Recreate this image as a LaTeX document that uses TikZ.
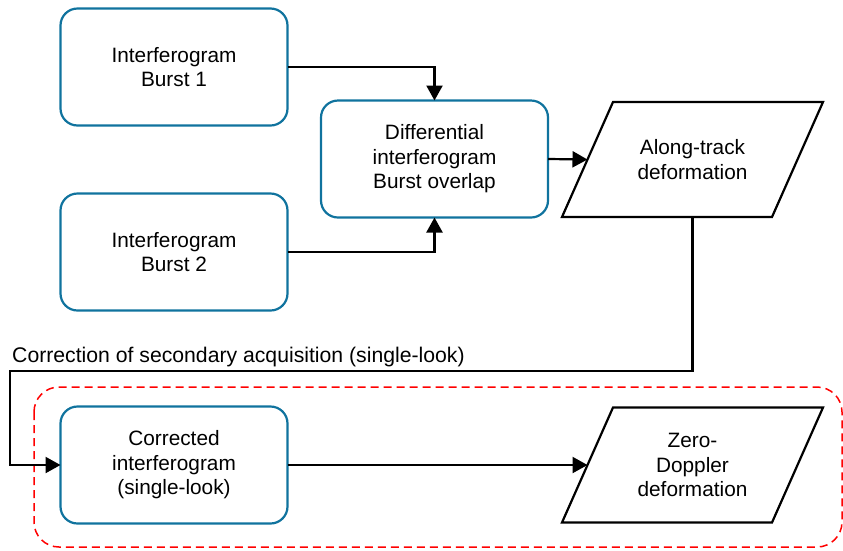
\documentclass[tikz,border=0pt]{standalone}
\usepackage{fontspec}
\setmainfont{Liberation Sans}
\usetikzlibrary{arrows.meta}
\definecolor{boxblue}{HTML}{10739E}
\begin{document}
\begin{tikzpicture}[x=1pt,y=-1pt,
  every node/.style={font=\fontsize{20.8}{24.5}\selectfont, align=center},
  procbox/.style={draw=boxblue, line width=2.2pt, rounded corners=17pt, minimum width=227pt, minimum height=117pt, inner sep=0pt, outer sep=0pt},
  dataline/.style={draw=black, line width=2.2pt, line join=miter},
  conn/.style={draw=black, line width=2.2pt, -{Triangle[length=15pt,width=16pt]}},
  groupbox/.style={draw=red, line width=1.5pt, dash pattern=on 8pt off 5pt, rounded corners=25pt}
]
\useasboundingbox (0,0) rectangle (843,550);
\draw[groupbox] (34,387) rectangle (842,547);
\node[procbox] (b1) at (174,67) {Interferogram\\Burst 1};
\node[procbox] (b2) at (174,252) {Interferogram\\Burst 2};
\node[procbox] (diff) at (434.5,159) {Differential\\interferogram\\Burst overlap};
% parallelogram: Along-track deformation
\node (along) at (692.5,159.5) {Along-track\\deformation};
\draw[dataline] (along.center) ++(-79.5,-57.5) -- ++(210,0) -- ++(-51,115) -- ++(-210,0) -- cycle;
\path (along.center) ++(-105,0) coordinate (alongW);
\path (along.center) ++(0,57.5) coordinate (alongS);
% parallelogram: Zero-Doppler deformation
\node (zero) at (692.5,465) {Zero-\\Doppler\\deformation};
\draw[dataline] (zero.center) ++(-79.5,-57.5) -- ++(210,0) -- ++(-51,115) -- ++(-210,0) -- cycle;
\path (zero.center) ++(-105,0) coordinate (zeroW);
\node[procbox] (corr) at (174,465) {Corrected\\interferogram\\(single-look)};
\node[anchor=base west, inner sep=0pt, font=\fontsize{21.2}{24.5}\selectfont] (lbl) at (12,362) {Correction of secondary acquisition (single-look)};
\coordinate (c2) at (10,371);
\draw[conn] (b1.east) -| (diff.north);
\draw[conn] (b2.east) -| (diff.south);
\draw[conn] (diff.east) -- (alongW);
\draw[conn] (alongS) |- (c2) |- (corr.west);
\draw[conn] (corr.east) -- (zeroW);
\end{tikzpicture}
\end{document}
